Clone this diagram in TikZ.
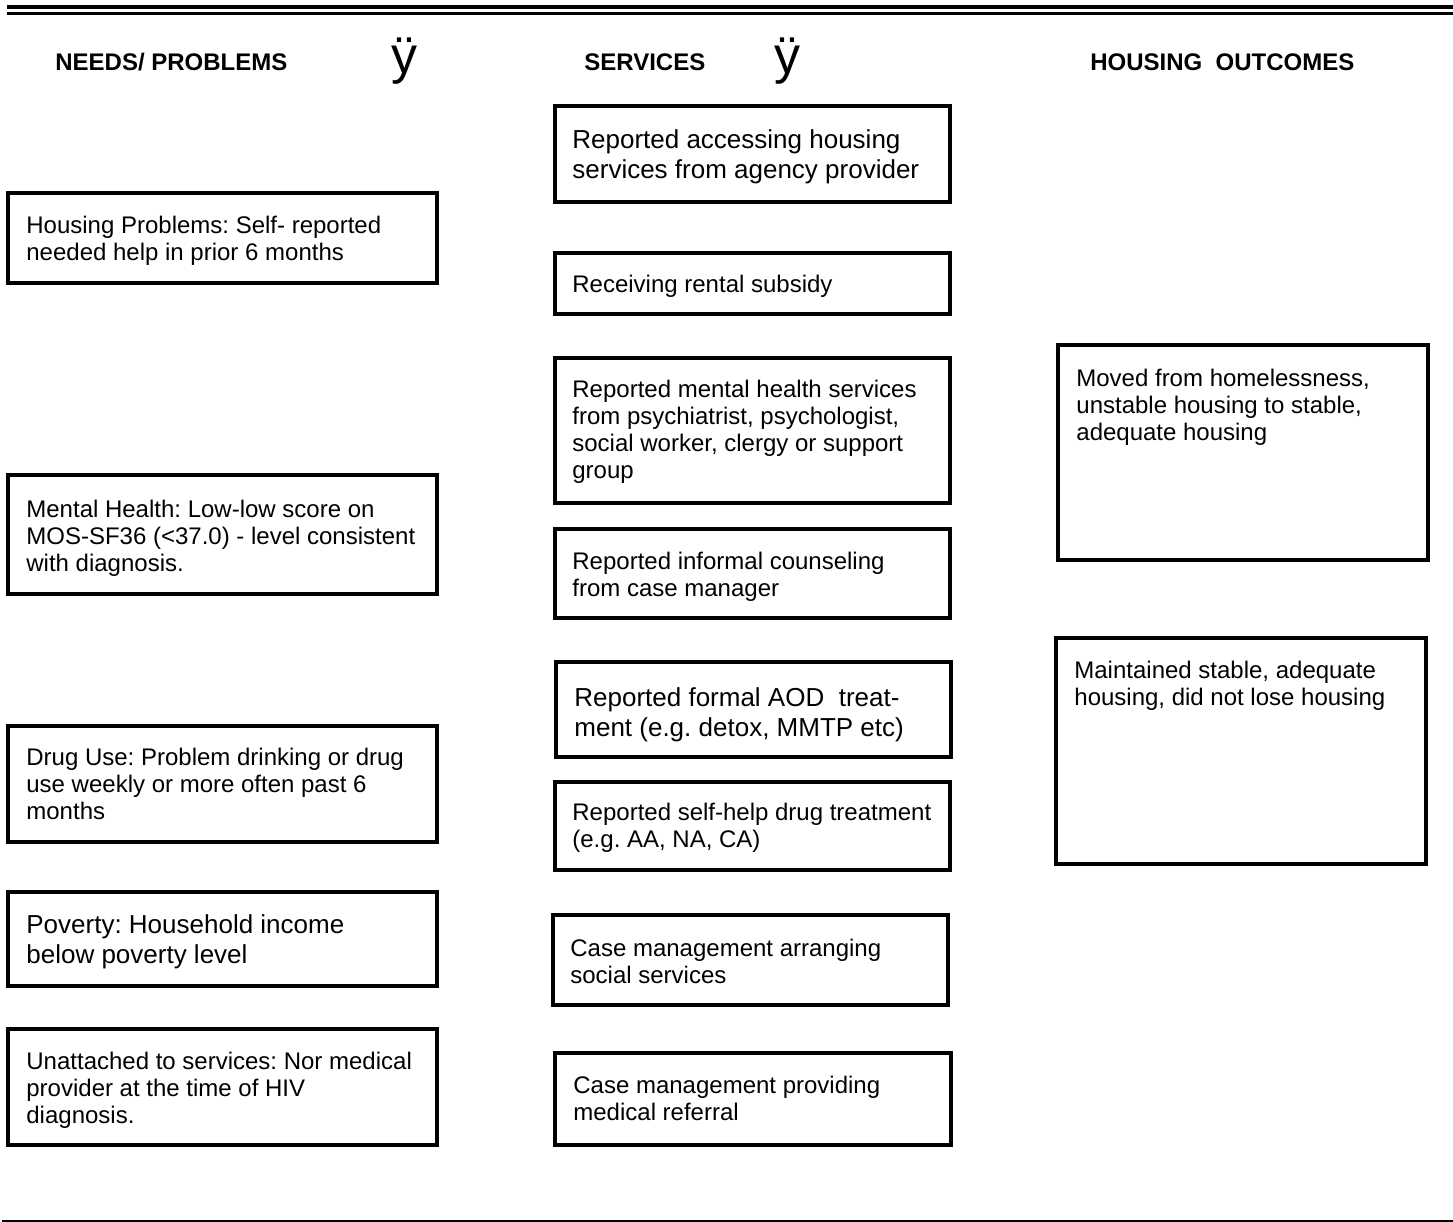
\documentclass[tikz,border=0pt]{standalone}
\usepackage{fontspec}
\setmainfont{Liberation Sans}
\frenchspacing
\begin{document}
\frenchspacing
\begin{tikzpicture}[x=0.5pt,y=-0.5pt,
  bx/.style={line width=1.6pt},
  sm/.style={anchor=north west,inner sep=0pt,align=left,font=\fontsize{12}{13.5}\selectfont\frenchspacing},
  bg/.style={anchor=north west,inner sep=0pt,align=left,font=\fontsize{13}{15}\selectfont\frenchspacing},
  hd/.style={anchor=base west,inner sep=0pt,font=\fontsize{12}{14}\selectfont\bfseries},
  yy/.style={anchor=base west,inner sep=0pt,font=\fontsize{26}{28}\selectfont}]
\useasboundingbox (0,0) rectangle (1453,1222);
% rules
\draw[line width=2pt] (7,7) -- (1453,7);
\draw[line width=1.5pt] (7,13.5) -- (1453,13.5);
\draw[line width=1pt] (2,1220.5) -- (1453,1220.5);
% headers
\node[hd] (h1) at (55,70) {NEEDS/ PROBLEMS};
\node[yy] (y1) at (391,73) {ÿ};
\node[hd] (h2) at (584,70) {SERVICES};
\node[yy] (y2) at (774,73) {ÿ};
\node[hd] (h3) at (1090,70) {HOUSING\ \ OUTCOMES};
% left column
\draw[bx] (8,193) rectangle (437,283);
\node[sm] (n1) at (26,216) {Housing Problems: Self- reported\\needed help in prior 6 months};
\draw[bx] (8,475) rectangle (437,594);
\node[sm] (n2) at (26,500) {Mental Health: Low-low score on\\MOS-SF36 (<37.0) - level consistent\\with diagnosis.};
\draw[bx] (8,726) rectangle (437,842);
\node[sm] (n3) at (26,748) {Drug Use: Problem drinking or drug\\use weekly or more often past 6\\months};
\draw[bx] (8,892) rectangle (437,986);
\node[bg] (n4) at (26,914) {Poverty: Household income\\below poverty level};
\draw[bx] (8,1029) rectangle (437,1145);
\node[sm] (n5) at (26,1052) {Unattached to services: Nor medical\\provider at the time of HIV\\diagnosis.};
% middle column
\draw[bx] (555,106) rectangle (950,202);
\node[bg] (s1) at (572,129) {Reported accessing housing\\services from agency provider};
\draw[bx] (555,253) rectangle (950,314);
\node[sm] (s2) at (572,275) {Receiving rental subsidy};
\draw[bx] (555,358) rectangle (950,503);
\node[sm] (s3) at (572,380) {Reported mental health services\\from psychiatrist, psychologist,\\social worker, clergy or support\\group};
\draw[bx] (555,529) rectangle (950,618);
\node[sm] (s4) at (572,552) {Reported informal counseling\\from case manager};
\draw[bx] (556,662) rectangle (951,757);
\node[bg] (s5) at (574,687) {Reported formal AOD\ \ treat-\\ment (e.g. detox, MMTP etc)};
\draw[bx] (555,782) rectangle (950,870);
\node[sm] (s6) at (572,803) {Reported self-help drug treatment\\(e.g. AA, NA, CA)};
\draw[bx] (553,915) rectangle (948,1005);
\node[sm] (s7) at (570,939) {Case management arranging\\social services};
\draw[bx] (555,1053) rectangle (951,1145);
\node[sm] (s8) at (573,1076) {Case management providing\\medical referral};
% right column
\draw[bx] (1058,345) rectangle (1428,560);
\node[sm] (o1) at (1076,369) {Moved from homelessness,\\unstable housing to stable,\\adequate housing};
\draw[bx] (1056,638) rectangle (1426,864);
\node[sm] (o2) at (1074,661) {Maintained stable, adequate\\housing, did not lose housing};
\end{tikzpicture}
\end{document}
